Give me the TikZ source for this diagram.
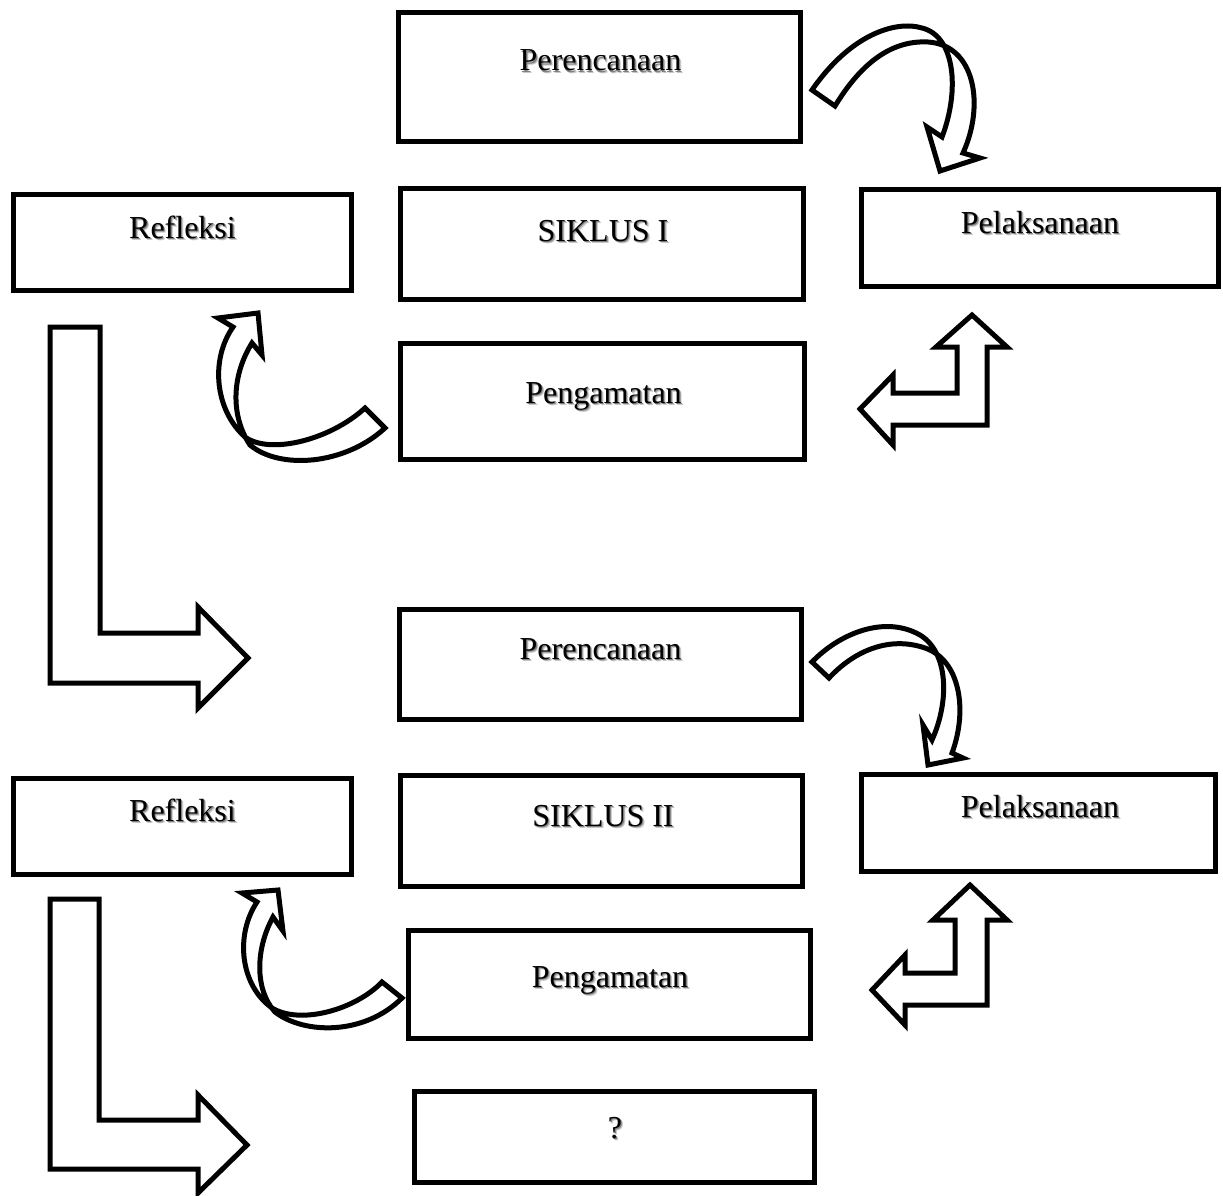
\documentclass[tikz,border=0pt]{standalone}
\usepackage{fontspec}
\setmainfont{Liberation Serif}
\usepackage{xcolor}
\usetikzlibrary{positioning,calc}

% text with the soft grey shadow of the original
\newcommand{\shadowed}[1]{%
  \makebox[0pt][l]{\hspace{2.2pt}\raisebox{-2.2pt}{\textcolor{black!22}{#1}}}%
  \makebox[0pt][l]{\hspace{1.1pt}\raisebox{-1.1pt}{\textcolor{black!50}{#1}}}#1}

\begin{document}
\begin{tikzpicture}[x=1pt, y=-1pt,
    box/.style={draw, line width=5.5pt, inner sep=0pt},
    lbl/.style={anchor=base, inner sep=0pt, font=\fontsize{32}{38}\selectfont},
    blockarrow/.style={draw, line width=5pt, fill=white, line join=miter}]
    \useasboundingbox (0,0) rectangle (1223,1196);

    % Siklus I
    \node[box, minimum width=402, minimum height=129] (p1) at (599.5,77) {};
    \node[box, minimum width=338, minimum height=96] (r1) at (182.5,242.5) {};
    \node[box, minimum width=403, minimum height=111] (s1) at (602,244) {};
    \node[box, minimum width=357, minimum height=97] (l1) at (1040,238) {};
    \node[box, minimum width=404, minimum height=116] (g1) at (602.5,401.5) {};
    \node[lbl] (p1t) at (600.5,71) {\shadowed{Perencanaan}};
    \node[lbl] (r1t) at (182.5,238) {\shadowed{Refleksi}};
    \node[lbl] (s1t) at (603,241) {\shadowed{SIKLUS I}};
    \node[lbl] (l1t) at (1040,233) {\shadowed{Pelaksanaan}};
    \node[lbl] (g1t) at (603.5,403) {\shadowed{Pengamatan}};

    % Siklus II
    \node[box, minimum width=402, minimum height=110] (p2) at (600.5,664.5) {};
    \node[box, minimum width=338, minimum height=96] (r2) at (182.5,826.5) {};
    \node[box, minimum width=402, minimum height=111] (s2) at (601.5,831) {};
    \node[box, minimum width=354, minimum height=97] (l2) at (1038.5,823) {};
    \node[box, minimum width=402, minimum height=108] (g2) at (609.5,984.5) {};
    \node[box, minimum width=400, minimum height=91] (q) at (614.5,1137) {};
    \node[lbl] (p2t) at (600.5,659) {\shadowed{Perencanaan}};
    \node[lbl] (r2t) at (182.5,821) {\shadowed{Refleksi}};
    \node[lbl] (s2t) at (603,826) {\shadowed{SIKLUS II}};
    \node[lbl] (l2t) at (1040,817) {\shadowed{Pelaksanaan}};
    \node[lbl] (g2t) at (610,987) {\shadowed{Pengamatan}};
    \node[lbl] (qt) at (615,1138) {\shadowed{?}};

    % curved arrows, perencanaan -> pelaksanaan
    \draw[blockarrow] (812,90) .. controls (850,35) and (895,20) .. (922,28)
        .. controls (955,36) and (960,90) .. (942,137)
        -- (927,127) -- (940,171) -- (980,158) -- (963,153)
        .. controls (985,105) and (975,45) .. (928,42)
        .. controls (890,40) and (860,65) .. (835,106) -- cycle;
    \draw[blockarrow] (812,662) .. controls (840,633) and (885,615) .. (920,635)
        .. controls (948,652) and (950,700) .. (932,740)
        -- (923,725) -- (928,765) -- (963,758) -- (952,753)
        .. controls (968,710) and (960,660) .. (925,648)
        .. controls (890,636) and (855,650) .. (829,678) -- cycle;

    % bent arrows, pengamatan -> pelaksanaan
    \draw[blockarrow] (860,409) -- (893,375) -- (893,393) -- (957,393) -- (957,347)
        -- (936,347) -- (972,315) -- (1007,347) -- (987,347) -- (987,425)
        -- (893,425) -- (893,445) -- cycle;
    \draw[blockarrow] (872,990) -- (905,955) -- (905,973) -- (955,973) -- (955,920)
        -- (933,920) -- (970,885) -- (1007,920) -- (987,920) -- (987,1005)
        -- (905,1005) -- (905,1025) -- cycle;

    % curved arrows, pengamatan -> refleksi
    \draw[blockarrow] (365,408) .. controls (330,440) and (270,455) .. (245,437)
        .. controls (215,410) and (210,360) .. (233,327)
        -- (218,318) -- (258,313) -- (262,355) -- (252,343)
        .. controls (232,375) and (230,415) .. (250,445)
        .. controls (280,470) and (345,465) .. (385,428) -- cycle;
    \draw[blockarrow] (382,982) .. controls (355,1010) and (300,1025) .. (272,1008)
        .. controls (240,985) and (235,935) .. (257,902)
        -- (242,893) -- (278,890) -- (283,931) -- (273,917)
        .. controls (255,950) and (255,990) .. (275,1012)
        .. controls (305,1035) and (365,1035) .. (402,998) -- cycle;

    % big bent arrows, refleksi -> next
    \draw[blockarrow] (50,327) -- (100,327) -- (100,633) -- (198,633) -- (198,607)
        -- (248,658) -- (198,708) -- (198,683) -- (50,683) -- cycle;
    \draw[blockarrow] (50,899) -- (99,899) -- (99,1120) -- (198,1120) -- (198,1095)
        -- (247,1145) -- (198,1193) -- (198,1169) -- (50,1169) -- cycle;
\end{tikzpicture}
\end{document}
